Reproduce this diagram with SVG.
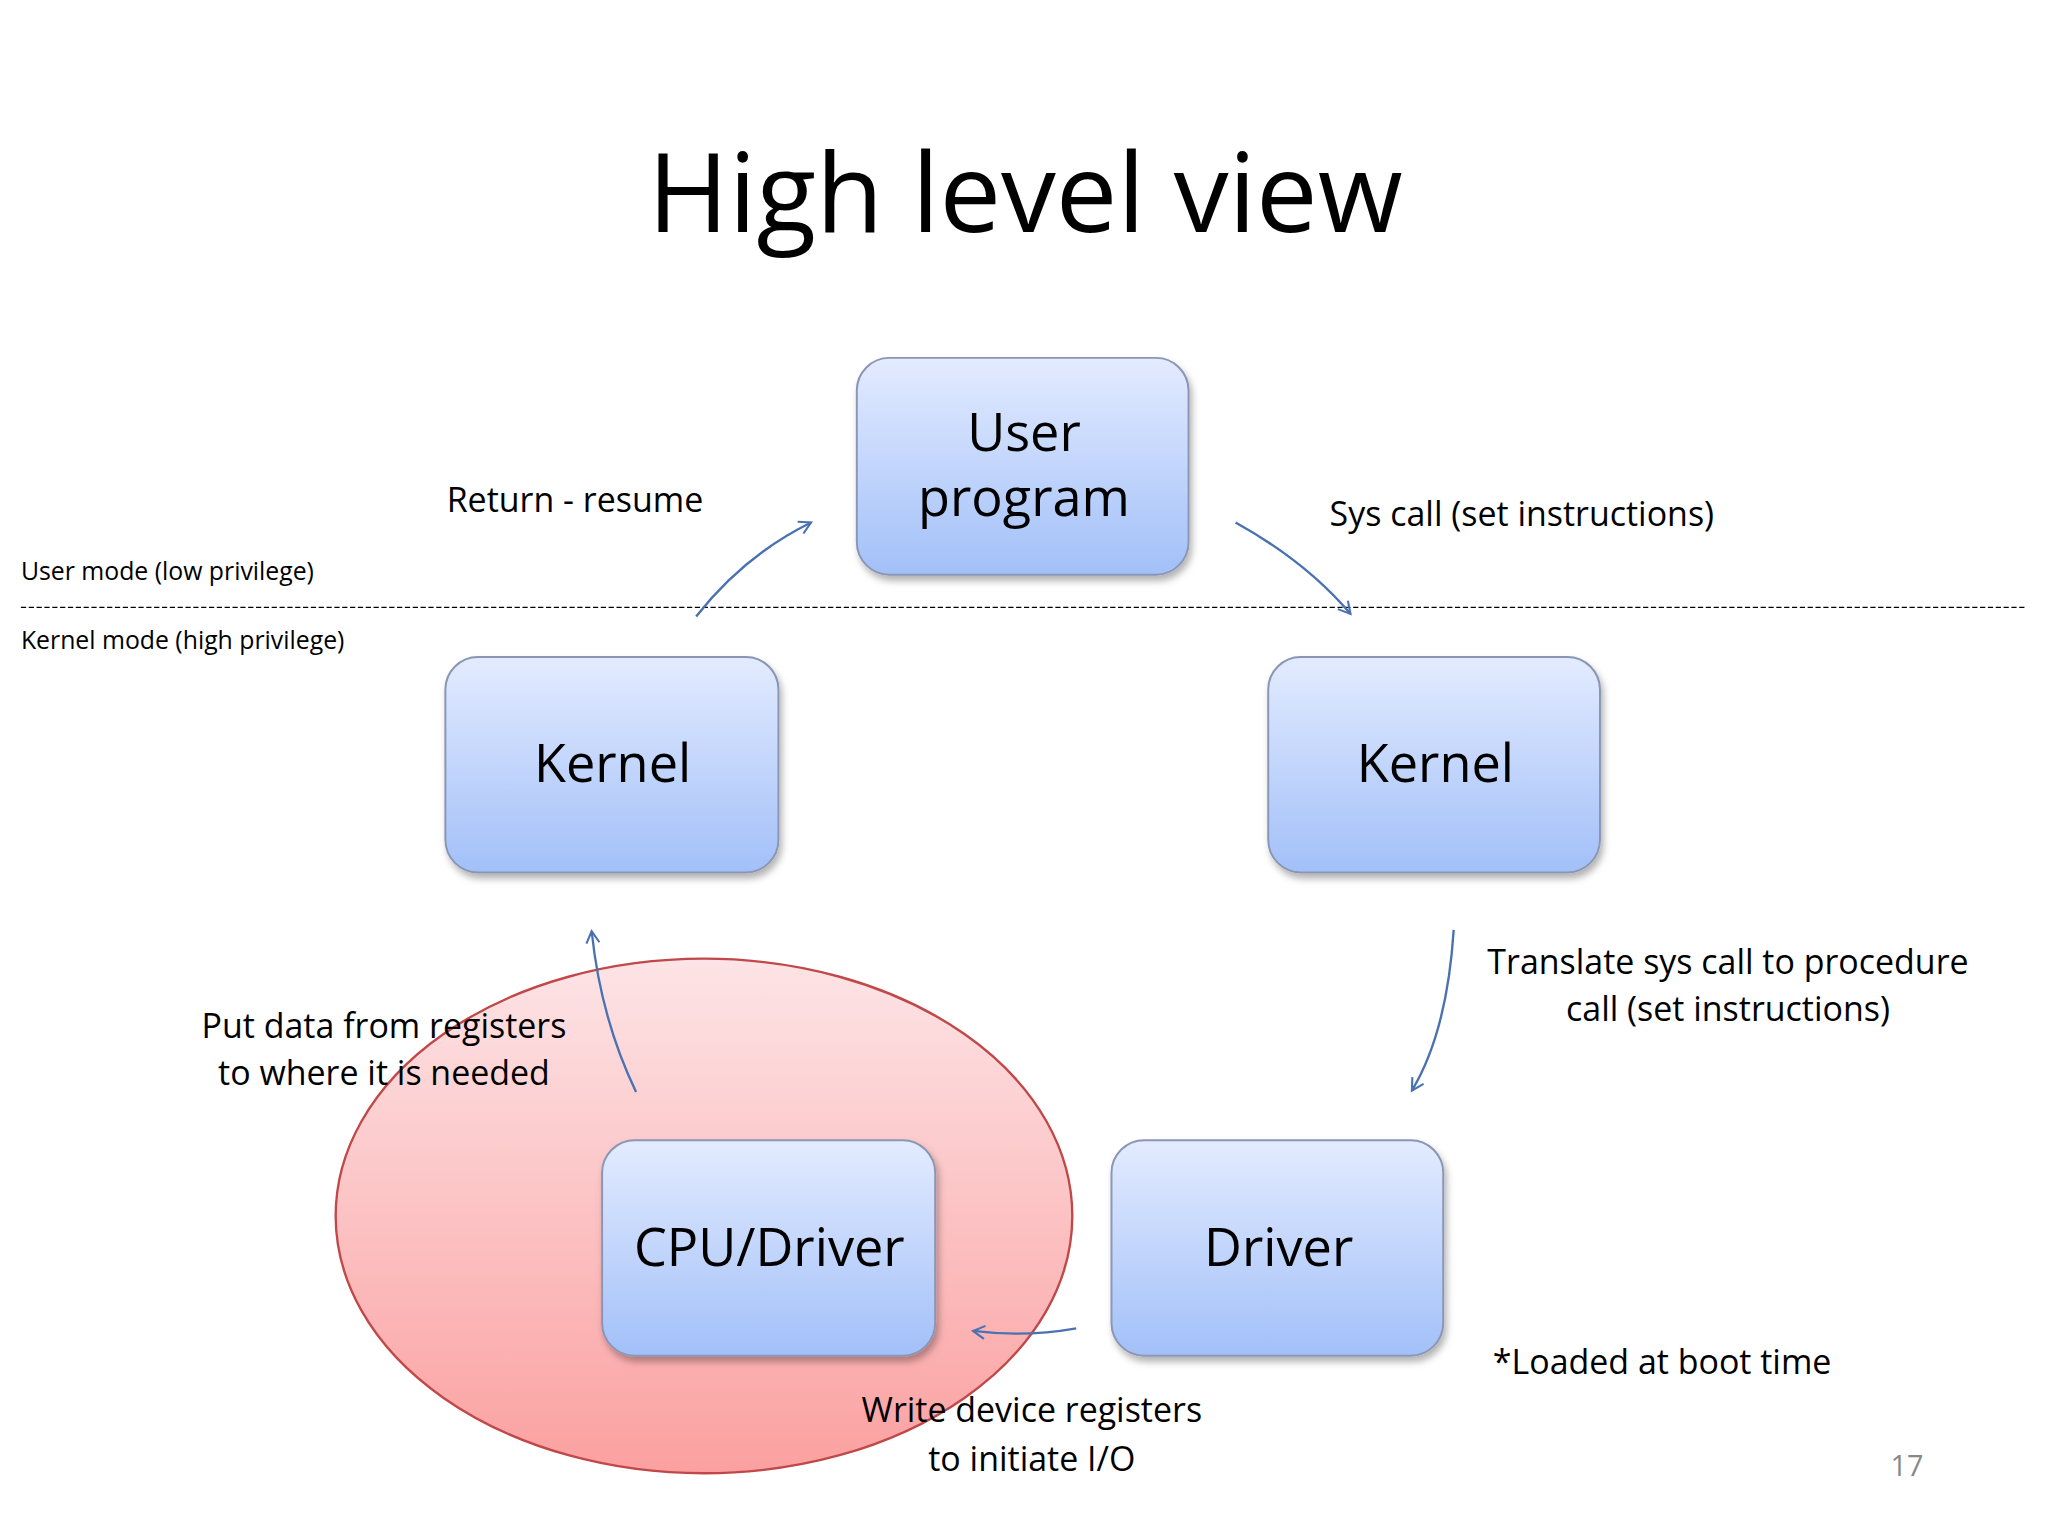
<svg xmlns="http://www.w3.org/2000/svg" width="2048" height="1536" viewBox="0 0 2048 1536">
<defs>
<linearGradient id="bg" x1="0" y1="0" x2="0" y2="1"><stop offset="0" stop-color="#e3ebff"/><stop offset="1" stop-color="#a2c0f8"/></linearGradient>
<linearGradient id="pg" x1="0" y1="0" x2="0" y2="1"><stop offset="0" stop-color="#fde4e6"/><stop offset="1" stop-color="#fba0a0"/></linearGradient>
<filter id="sh" x="-10%" y="-10%" width="130%" height="130%"><feDropShadow dx="2" dy="4" stdDeviation="3" flood-color="#000" flood-opacity="0.3"/></filter>
<marker id="ah" viewBox="0 0 12 12" refX="10" refY="6" markerWidth="12" markerHeight="12" markerUnits="userSpaceOnUse" orient="auto"><path d="M1,1 L10,6 L1,11" fill="none" stroke="#4a72b0" stroke-width="1.6"/></marker>
</defs>
<style>
.box{fill:url(#bg);stroke:#8a96b4;stroke-width:1.5;filter:url(#sh)}
.bt{font-family:"Open Sans","Liberation Sans",sans-serif;font-size:40px;fill:#000;text-anchor:middle}
.lb{font-family:"Open Sans","Liberation Sans",sans-serif;font-size:26px;fill:#000}
.sm{font-family:"Open Sans","Liberation Sans",sans-serif;font-size:19px;fill:#000}
.ar{fill:none;stroke:#4a72b0;stroke-width:1.8;marker-end:url(#ah)}
</style>
<rect width="2048" height="1536" fill="#fff"/>
<g transform="scale(1.3061)">
<text x="785" y="178" font-family="'Open Sans','Liberation Sans',sans-serif" font-size="84" text-anchor="middle">High level view</text>
<g id="modes">
<text class="sm" x="16" y="444">User mode (low privilege)</text>
<line x1="16" y1="465" x2="1550" y2="465" stroke="#000" stroke-width="1" stroke-dasharray="4,2"/>
<text class="sm" x="16" y="497">Kernel mode (high privilege)</text>
</g>
<g id="ellipse"><ellipse cx="539" cy="931" rx="282" ry="197" fill="url(#pg)" stroke="#c04848" stroke-width="1.8"/></g>
<g id="user"><rect class="box" x="656" y="274" width="254" height="166" rx="25"/><text class="bt" x="784" y="345">User</text><text class="bt" x="784" y="395">program</text></g>
<g id="kernelL"><rect class="box" x="341" y="503" width="255" height="165" rx="25"/><text class="bt" x="469" y="599">Kernel</text></g>
<g id="kernelR"><rect class="box" x="971" y="503" width="254" height="165" rx="25"/><text class="bt" x="1099" y="599">Kernel</text></g>
<g id="cpu"><rect class="box" x="461" y="873" width="255" height="165" rx="25"/><text class="bt" x="589" y="969">CPU/Driver</text></g>
<g id="driver"><rect class="box" x="851" y="873" width="254" height="165" rx="25"/><text class="bt" x="979" y="969">Driver</text></g>
<g id="connectors">
<path class="ar" d="M533,472 Q570,425 621,400"/>
<path class="ar" d="M946,400 Q1000,430 1034,470"/>
<path class="ar" d="M1113,712 Q1108,790 1081,835"/>
<path class="ar" d="M487,836 Q460,780 453,713"/>
<path class="ar" d="M824,1017 Q785,1024 745,1019"/>
</g>
<g id="labels">
<text class="lb" x="342" y="392">Return - resume</text>
<text class="lb" x="1018" y="403">Sys call (set instructions)</text>
<text class="lb" x="1323" y="746" text-anchor="middle">Translate sys call to procedure</text>
<text class="lb" x="1323" y="782" text-anchor="middle">call (set instructions)</text>
<text class="lb" x="294" y="795" text-anchor="middle">Put data from registers</text>
<text class="lb" x="294" y="831" text-anchor="middle">to where it is needed</text>
<text class="lb" x="790" y="1089" text-anchor="middle">Write device registers</text>
<text class="lb" x="790" y="1126" text-anchor="middle">to initiate I/O</text>
<text class="lb" x="1143" y="1052">*Loaded at boot time</text>
<text x="1460" y="1130" font-family="'Open Sans','Liberation Sans',sans-serif" font-size="22" fill="#888" text-anchor="middle">17</text>
</g>
</g>
</svg>
